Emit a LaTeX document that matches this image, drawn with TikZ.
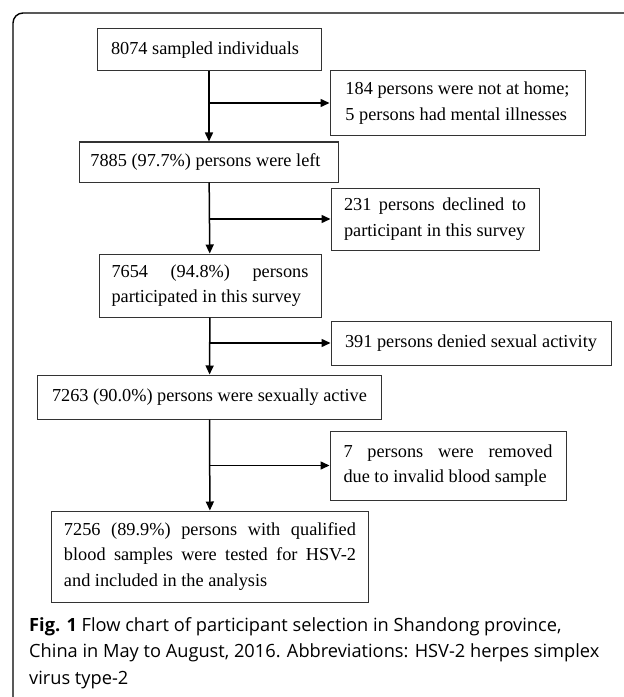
\documentclass[tikz,border=0pt]{standalone}
\usepackage{fontspec}
\setmainfont{Liberation Serif}
\newfontfamily\capfont{Open Sans}
\usetikzlibrary{arrows.meta}
\newcommand{\boxfont}{\fontsize{18.36}{25.6}\selectfont}
\newcommand{\capsize}{\fontsize{18.3}{26.6}\selectfont}
\begin{document}
\begin{tikzpicture}[x=1bp,y=-1bp,
  fbox/.style={draw=black!80, line width=1bp, inner sep=0pt,
    font=\boxfont, text=black},
  arr/.style={line width=1.5bp, -{Triangle[length=9bp,width=8bp]}},
  frame/.style={line width=1.4bp, rounded corners=10bp}]
\path[use as bounding box] (0,0) rectangle (624,697);
\draw[frame] (624,13) -- (13,13) -- (13,697);

\node[fbox, minimum width=224bp, minimum height=42bp] (b1) at (209,50) {\hspace*{-8bp}8074 sampled individuals};
\node[fbox, minimum width=255bp, minimum height=64bp, align=left] (b2) at (457.5,103)
  {184 persons were not at home;\\5 persons had mental illnesses};
\node[fbox, minimum width=258bp, minimum height=40bp] (b3) at (209,162) {\hspace*{-7bp}7885 (97.7\%) persons were left};
\node[fbox, minimum width=208bp, minimum height=62bp, align=left] (b4) at (435,219)
  {\makebox[182bp][s]{231 persons declined to}\\participant in this survey};
\node[fbox, minimum width=222bp, minimum height=63bp, align=left] (b5) at (210,285.5)
  {\makebox[197bp][s]{7654 (94.8\%) persons}\\participated in this survey};
\node[fbox, minimum width=280bp, minimum height=44bp] (b6) at (471,343) {391 persons denied sexual activity};
\node[fbox, minimum width=343bp, minimum height=44bp] (b7) at (209.5,397) {7263 (90.0\%) persons were sexually active};
\node[fbox, minimum width=236bp, minimum height=69bp, align=left] (b8) at (448,465.5)
  {\makebox[209bp][s]{7 persons were removed}\\due to invalid blood sample};
\node[fbox, minimum width=316bp, minimum height=91bp, align=left] (b9) at (210,556.5)
  {\makebox[292bp][s]{7256 (89.9\%) persons with qualified}\\\makebox[292bp][s]{blood samples were tested for HSV-2}\\and included in the analysis};

\draw[arr] (b1) -- (b3);
\draw[arr] (b1.south |- b2.west) -- (b2.west);
\draw[arr] (b3) -- (b5);
\draw[arr] (b3.south |- b4.west) -- (b4.west);
\draw[arr] (b5) -- (b7);
\draw[arr] (b5.south |- b6.west) -- (b6.west);
\draw[arr] (b7) -- (b9);
\draw[arr] (b7.south |- b8.west) -- (b8.west);

\node[anchor=base west, inner sep=0pt, align=left,
  font=\capfont\capsize] (cap) at (29,684)
  {\textbf{Fig. 1} Flow chart of participant selection in Shandong province,\\
   China in May to August, 2016. Abbreviations: HSV-2 herpes simplex\\
   virus type-2};
\end{tikzpicture}
\end{document}
